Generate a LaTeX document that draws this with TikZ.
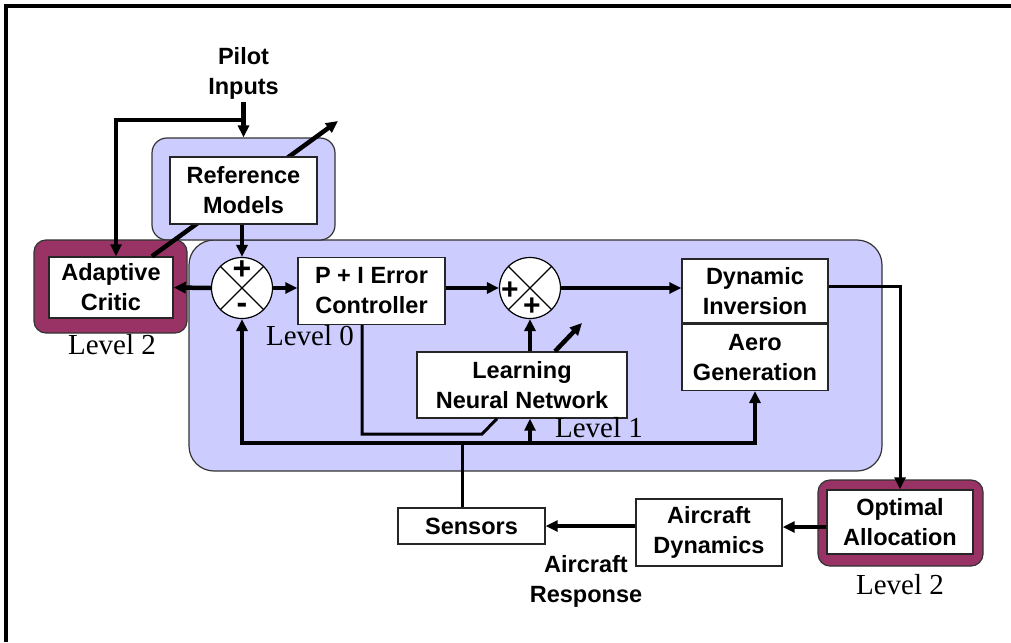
\documentclass[tikz,border=0pt]{standalone}
\usepackage{fontspec}
\setmainfont{Liberation Sans}
\newfontfamily\lvlfont{Liberation Serif}
\usepackage{xcolor}
\usetikzlibrary{arrows.meta,positioning,calc}
\definecolor{lav}{HTML}{CCCCFF}
\definecolor{plum}{HTML}{993366}

\begin{document}
\begin{tikzpicture}[x=1pt,y=-1pt,>={Triangle[length=12pt,width=11pt]},
  font=\fontsize{23.5}{30}\selectfont\bfseries,
  blk/.style={draw=black!85,fill=white,line width=1.4pt,align=center,inner sep=0pt},
  pan/.style={draw=black!80,line width=1.2pt,rounded corners=#1,inner sep=0pt},
  sumc/.style={draw,circle,fill=white,line width=1.2pt,minimum size=61pt,inner sep=0pt},
  sgn/.style={inner sep=0pt,font=\fontsize{32}{32}\selectfont\bfseries},
  lvl/.style={font=\lvlfont\fontsize{29}{32}\selectfont},
  wire/.style={line width=4.5pt},
  slim/.style={line width=3pt}]
  \useasboundingbox (0,0) rectangle (1011,642);
  % frame (top and left edge only)
  \draw[line width=3.5pt] (1011,6) -- (6,6) -- (6,642);
  % background panels
  \node[pan=25pt,fill=lav,minimum width=693pt,minimum height=231pt] (loop) at (535.5,355.5) {};
  \node[pan=15pt,fill=lav,minimum width=183pt,minimum height=102pt] (refbg) at (243.5,189) {};
  \node[pan=12pt,fill=plum,minimum width=153pt,minimum height=93pt] (critbg) at (110.5,286.5) {};
  \node[pan=12pt,fill=plum,minimum width=165pt,minimum height=86pt] (oabg) at (900.5,523) {};
  % critic block, its output runs behind the reference models
  \node[blk,minimum width=124pt,minimum height=61pt] (crit) at (111,287.5) {Adaptive\\Critic};
  \coordinate (critout) at (338,121);
  \draw[wire,->] ([xshift=41pt]crit.north) -- (critout);
  \node[blk,minimum width=147pt,minimum height=67pt] (ref) at (243.5,190.5) {Reference\\Models};
  % inner loop
  \node[sumc] (s1) at (242,288) {};
  \draw[line width=1.2pt] (s1.north west) -- (s1.south east) (s1.north east) -- (s1.south west);
  \node[sgn] (s1p) at (242,270) {+};
  \node[sgn] (s1m) at (242,308) {-};
  \node[blk,minimum width=147pt,minimum height=67pt] (pi) at (371.5,291) {P + I Error\\Controller};
  \node[sumc] (s2) at (530,288) {};
  \draw[line width=1.2pt] (s2.north west) -- (s2.south east) (s2.north east) -- (s2.south west);
  \node[sgn,font=\fontsize{30}{30}\selectfont\bfseries] (s2a) at (510,291) {+};
  \node[sgn,font=\fontsize{30}{30}\selectfont\bfseries] (s2b) at (532,307) {+};
  \node[blk,minimum width=146pt,minimum height=64pt] (dyn) at (755,291) {Dynamic\\Inversion};
  \node[blk,minimum width=146pt,minimum height=66pt,below=0pt of dyn] (aero) {Aero\\Generation};
  \node[blk,minimum width=210pt,minimum height=66pt] (lnn) at (522,385) {Learning\\Neural Network};
  % plant side
  \node[blk,minimum width=146pt,minimum height=64pt] (oa) at (900,522) {Optimal\\Allocation};
  \node[blk,minimum width=146pt,minimum height=67pt] (acd) at (709,532.5) {Aircraft\\Dynamics};
  \node[blk,minimum width=147pt,minimum height=36pt] (sens) at (471.5,526) {Sensors};
  % labels
  \node[align=center] (pilot) at (243.5,73) {Pilot\\Inputs};
  \node[align=center] (resp) at (586,581) {Aircraft\\Response};
  \node[lvl] (lv2a) at (112,345) {Level 2};
  \node[lvl] (lv0) at (310,336) {Level 0};
  \node[lvl] (lv1) at (599,428) {Level 1};
  \node[lvl] (lv2b) at (900,585) {Level 2};
  % connectors
  \coordinate (pjoin) at (243.5,120);
  \draw[wire,->] (pilot.south) -- (refbg.north);
  \draw[wire,->] (pjoin) -| ([xshift=5pt]crit.north);
  \draw[wire,->] (ref.south -| s1.north) -- (s1.north);
  \draw[wire,->] (s1.west) -- (crit.east);
  \draw[wire,->] (s1.east) -- (s1.east -| pi.west);
  \draw[wire,->] (pi.east |- s2.west) -- (s2.west);
  \draw[wire,->] (s2.east) -- (s2.east -| dyn.west);
  \draw[slim,->] ([yshift=5pt]dyn.east) -| (oa.north);
  \draw[wire,->] ([yshift=-5pt]oa.west) -- ([yshift=-5pt]oa.west -| acd.east);
  \draw[wire,->] (acd.west |- sens.east) -- (sens.east);
  % feedback bus
  \coordinate (busl) at (242,443);
  \coordinate (busr) at (755,443);
  \draw[wire,<->] (s1.south) -- (busl) -- (busr) -- (aero.south);
  \draw[wire,->] (s2.south |- busl) -- (s2.south |- lnn.south);
  \draw[wire,->] (lnn.north -| s2.south) -- (s2.south);
  \coordinate (lnnout) at (582,323);
  \draw[wire,->] ([xshift=33pt]lnn.north) -- (lnnout);
  \draw[slim] ([xshift=-9pt]sens.north) -- ([xshift=-9pt]sens.north |- busl);
  \coordinate (pibend) at (482,434);
  \draw[slim] ([xshift=-9.5pt]pi.south) |- (pibend) -- ([xshift=-25pt]lnn.south);
\end{tikzpicture}
\end{document}
